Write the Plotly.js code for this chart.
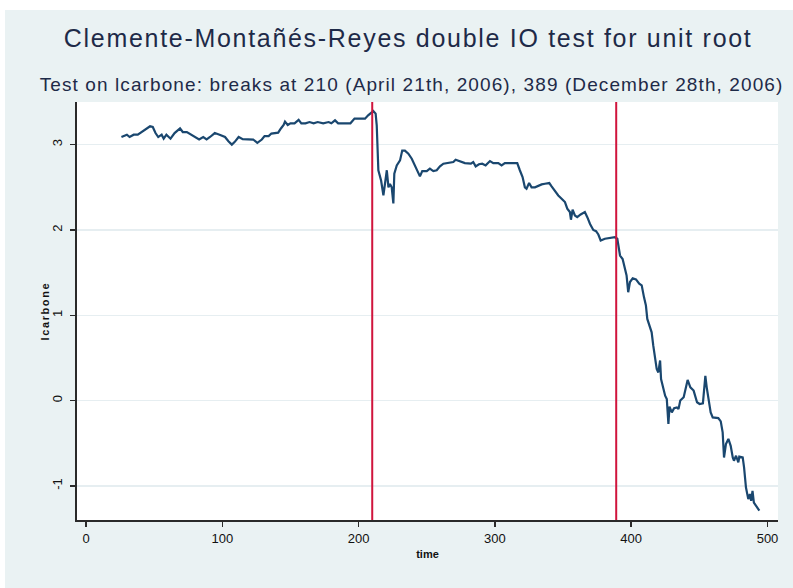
<!DOCTYPE html>
<html>
<head>
<meta charset="utf-8">
<script src="https://cdn.plot.ly/plotly-3.0.1.min.js"></script>
<style>
html,body{margin:0;padding:0;background:#ffffff;}
#chart{position:absolute;left:5px;top:10px;width:788px;height:578px;}
#chart .annotation[data-index="0"] text{letter-spacing:1.7px;}
#chart .annotation[data-index="1"] text{letter-spacing:1.1px;}
#chart .annotation[data-index="2"] text{letter-spacing:1.6px;}
</style>
</head>
<body>
<div id="chart"></div>
<script>
// time index
const timeVals = [26,30,32,35,38,41,44.5,47,49,51,53,55.5,57,59,62,65,69,71,74,77.5,81,83,86,88.5,91,94.5,98,102,104.5,107,109,112,115,119,122.7,125.7,129,131,134,136,141,143,145,146,148,150,153,156,158,161,164,167,170,174,178,180,182.7,185,194,197,204.7,207,209,210.8,212.5,213.3,214.5,216.5,218.2,219.4,220.7,221.9,223,224.3,225.5,226.2,228,230.4,232,234,236.5,239,241.4,243.4,245,246.7,250,252.3,254.8,257.3,259.7,262.2,265.8,269.5,271.2,274.4,278,282.4,284.1,285.9,288.3,290.7,293.2,296.4,298.8,302.5,304.9,307.3,316.4,318.3,320.3,322,323.2,325.1,326.9,329.4,331.8,334.3,336.7,339.9,341.6,344.1,346.5,349.7,351.4,353.1,355,355.8,357,358.7,360.4,362.9,366,367.8,369.8,372.2,374.2,375.9,377.6,380.7,384.4,388,389.8,390.5,391.8,393.7,395.4,396.6,397.8,399.1,401.1,403.5,405.9,407.7,409.4,410.8,411.8,413.3,415,416.2,417.5,418.7,419.9,421.2,421.9,423.6,424.9,426.1,427.3,428.1,429.8,431.5,433.5,434.7,436,438.5,440.4,441.4,443.4,445.8,448.3,450.2,452.6,453.6,454.4,455.4,456.6,458.3,459.8,463.9,465.7,467.1,468.1,469.5,471.3,473,474.5,475.4,476.9,478.6,479.3,481.8,482.8,484.2,485.9,487.1,488,489,490,492.5,494];
// lcarbone values
const lcarbone = [3.09,3.117,3.09,3.117,3.117,3.148,3.19,3.215,3.207,3.136,3.089,3.117,3.07,3.117,3.07,3.136,3.19,3.148,3.148,3.117,3.089,3.062,3.09,3.062,3.09,3.136,3.117,3.09,3.04,3.0,3.03,3.09,3.065,3.06,3.06,3.02,3.06,3.1,3.1,3.13,3.14,3.19,3.23,3.27,3.23,3.25,3.25,3.29,3.25,3.25,3.265,3.25,3.265,3.25,3.265,3.25,3.285,3.25,3.25,3.305,3.305,3.344,3.37,3.394,3.364,3.227,2.70,2.58,2.405,2.54,2.70,2.50,2.54,2.50,2.31,2.66,2.757,2.815,2.93,2.93,2.894,2.835,2.757,2.68,2.628,2.69,2.69,2.718,2.69,2.70,2.745,2.777,2.784,2.796,2.824,2.804,2.784,2.777,2.796,2.745,2.77,2.777,2.757,2.808,2.784,2.784,2.757,2.784,2.784,2.70,2.62,2.50,2.484,2.55,2.50,2.50,2.52,2.534,2.542,2.55,2.51,2.455,2.405,2.354,2.327,2.25,2.21,2.12,2.237,2.17,2.15,2.182,2.21,2.15,2.07,2.0,1.986,1.947,1.877,1.897,1.908,1.915,1.897,1.838,1.70,1.66,1.545,1.466,1.27,1.39,1.434,1.42,1.37,1.35,1.21,1.114,0.957,0.879,0.80,0.644,0.488,0.37,0.33,0.47,0.253,0.136,0.057,0.018,-0.275,-0.07,-0.138,-0.09,-0.08,-0.10,0.0,0.04,0.195,0.242,0.155,0.117,-0.02,-0.04,-0.033,0.175,0.29,0.155,0.04,-0.138,-0.197,-0.205,-0.244,-0.373,-0.667,-0.51,-0.45,-0.53,-0.667,-0.705,-0.647,-0.725,-0.658,-0.667,-0.784,-1.02,-1.155,-1.096,-1.175,-1.06,-1.195,-1.255,-1.29];
// break points
const breaks = [210, 389];
const xTicks = [0,100,200,300,400,500];
const yTicks = [-1,0,1,2,3];
const titleText = "Clemente-Montañés-Reyes double IO test for unit root";
const subtitleText = "Test on lcarbone: breaks at 210 (April 21th, 2006), 389 (December 28th, 2006)";
const xTitle = "time";
const yTitle = "lcarbone";

const FONT = '"Liberation Sans", Arial, sans-serif';

const trace = {
  x: timeVals, y: lcarbone, type: 'scatter', mode: 'lines',
  line: {color: '#1a476f', width: 2.2},
  hoverinfo: 'skip', showlegend: false
};

const shapes = breaks.map(b => ({
  type: 'line', xref: 'x', yref: 'paper', x0: b, x1: b, y0: 0, y1: 1,
  line: {color: '#d0143c', width: 2}
}));

const layout = {
  width: 788, height: 578,
  margin: {l: 72, r: 15, t: 92, b: 68},
  paper_bgcolor: '#eaf2f3',
  plot_bgcolor: '#ffffff',
  font: {family: FONT, color: '#111111'},
  showlegend: false,
  shapes: shapes,
  xaxis: {
    range: [-6.6, 507.7], tickvals: xTicks, ticktext: xTicks.map(String),
    showgrid: false, zeroline: false,
    showline: true, linecolor: '#2a2a2a', linewidth: 2,
    ticks: 'outside', ticklen: 5, tickwidth: 1.5, tickcolor: '#2a2a2a',
    tickfont: {size: 13, color: '#111111'},
    title: {text: '<b>' + xTitle + '</b>', font: {size: 11, color: '#111111'}, standoff: 6}
  },
  yaxis: {
    range: [-1.40, 3.50], tickvals: yTicks, ticktext: yTicks.map(String),
    showgrid: true, gridcolor: '#e6eef1', gridwidth: 1.5, zeroline: false,
    showline: true, linecolor: '#2a2a2a', linewidth: 2,
    ticks: 'outside', ticklen: 5, tickwidth: 1.5, tickcolor: '#2a2a2a',
    tickangle: -90, ticklabelstandoff: 3,
    tickfont: {size: 13, color: '#111111'}
  },
  annotations: [
    {text: titleText, xref: 'paper', yref: 'paper', x: 0.4715, y: 1.153,
     xanchor: 'center', yanchor: 'middle', showarrow: false,
     font: {size: 25, color: '#1e2a48', family: FONT}},
    {text: subtitleText, xref: 'paper', yref: 'paper', x: 0.477, y: 1.043,
     xanchor: 'center', yanchor: 'middle', showarrow: false,
     font: {size: 19, color: '#1e2a48', family: FONT}},
    {text: '<b>' + yTitle + '</b>', xref: 'paper', yref: 'paper', x: -0.0456, y: 0.5,
     xanchor: 'center', yanchor: 'middle', textangle: -90, showarrow: false,
     font: {size: 11, color: '#111111', family: FONT}}
  ]
};

Plotly.newPlot('chart', [trace], layout, {displayModeBar: false, staticPlot: true});
</script>
</body>
</html>
